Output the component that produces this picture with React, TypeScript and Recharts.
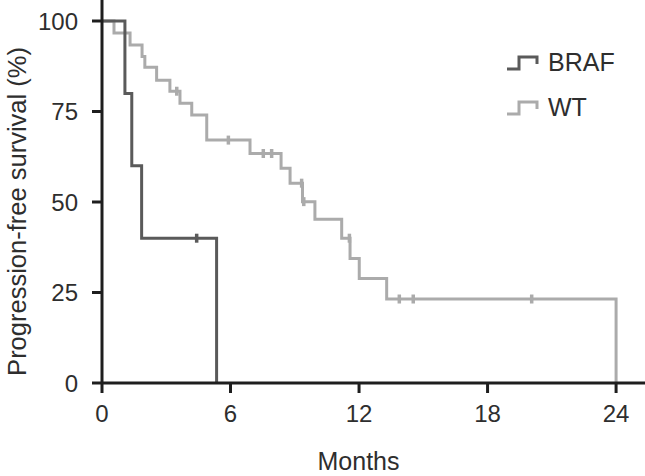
import { Legend, Line, LineChart, XAxis, YAxis } from "recharts";

// Kaplan-Meier steps (months, % progression-free, 1 = censored)
const brafMonths = [0, 1.07, 1.39, 1.85, 4.42, 5.35];
const brafSurvival = [100, 80, 60, 40, 40, 0];
const brafCensored = [0, 0, 0, 0, 1, 0];

const wtMonths = [
  0, 0.56, 1.31, 1.87, 2.0, 2.55, 3.17, 3.49, 3.64, 4.19, 4.89, 5.9, 6.91, 7.53,
  7.92, 8.36, 8.78, 9.32, 9.36, 9.42, 9.94, 11.19, 11.55, 11.58, 12.01, 13.29,
  13.88, 14.53, 20.06, 24.0,
];
const wtSurvival = [
  100, 96.7, 93.4, 90.2, 87.2, 83.6, 80.6, 80.6, 77.3, 74.0, 67.1, 67.1, 63.4,
  63.4, 63.4, 59.3, 55.2, 55.2, 50.1, 50.1, 45.2, 40.0, 40.0, 34.4, 28.9, 23.2,
  23.2, 23.2, 23.2, 0,
];
const wtCensored = [
  0, 0, 0, 0, 0, 0, 0, 1, 0, 0, 0, 1, 0, 1, 1, 0, 0, 1, 0, 1, 0, 0, 1, 0, 0, 0,
  1, 1, 1, 0,
];

const seriesNames = ["BRAF", "WT"];
const seriesColors = ["#5a5a5a", "#ababab"];
const xTicks = [0, 6, 12, 18, 24];
const yTicks = [0, 25, 50, 75, 100];

const toPoints = (months: number[], surv: number[], cens: number[]) =>
  months.map((m, i) => ({ month: m, pfs: surv[i], censored: cens[i] === 1 }));

const brafData = toPoints(brafMonths, brafSurvival, brafCensored);
const wtData = toPoints(wtMonths, wtSurvival, wtCensored);

const FONT = "'Liberation Sans', Arial, Helvetica, sans-serif";
const AXIS = "#1e1e1e";
const TEXT = "#2e2e2e";

function censorMark(color: string) {
  return (props: any) => {
    const { cx, cy, payload, index } = props;
    if (!payload?.censored) return <g key={`c-${index}`} />;
    return (
      <line
        key={`c-${index}`}
        x1={cx}
        x2={cx}
        y1={cy - 4.5}
        y2={cy + 4.5}
        stroke={color}
        strokeWidth={3.5}
      />
    );
  };
}

function StepLegend({ payload }: any) {
  const items = [...(payload ?? [])].sort(
    (a: any, b: any) => seriesNames.indexOf(a.value) - seriesNames.indexOf(b.value)
  );
  return (
    <div>
      {items.map((it: any) => (
        <div
          key={it.value}
          style={{ display: "flex", alignItems: "center", height: 45 }}
        >
          <svg width={34} height={18} style={{ marginRight: 8 }}>
            <path
              d="M1,15 H13 V3 H31 V10"
              fill="none"
              stroke={it.color}
              strokeWidth={3}
            />
          </svg>
          <span style={{ fontSize: 25, color: TEXT }}>{it.value}</span>
        </div>
      ))}
    </div>
  );
}

function XLabel({ viewBox }: any) {
  const { x, y, width, height } = viewBox;
  return (
    <text
      x={x + width / 2 - 15}
      y={y + height - 6}
      textAnchor="middle"
      fontSize={25}
      fill={TEXT}
    >
      Months
    </text>
  );
}

function YLabel({ viewBox }: any) {
  const { x, y, height } = viewBox;
  const cx = x + 17;
  const cy = y + height / 2 + 20;
  return (
    <text
      x={cx}
      y={cy}
      transform={`rotate(-90, ${cx}, ${cy})`}
      textAnchor="middle"
      dominantBaseline="central"
      fontSize={25.5}
      fill={TEXT}
    >
      Progression-free survival (%)
    </text>
  );
}

export default function App() {
  return (
    <div
      style={{
        position: "fixed",
        top: 0,
        left: 0,
        width: 645,
        height: 476,
        background: "#fff",
        fontFamily: FONT,
      }}
    >
      <LineChart
        width={645}
        height={476}
        margin={{ top: 0, right: 0, left: 0, bottom: 0 }}
      >
        <XAxis
          dataKey="month"
          type="number"
          domain={[0, 25.35]}
          ticks={xTicks}
          allowDuplicatedCategory={false}
          height={93}
          tickSize={10}
          tickMargin={12}
          stroke={AXIS}
          strokeWidth={3}
          tick={{ fill: TEXT, fontSize: 24 }}
          label={<XLabel />}
        />
        <YAxis
          type="number"
          domain={[0, 105.8]}
          ticks={yTicks}
          width={102}
          tickSize={10}
          tickMargin={14}
          stroke={AXIS}
          strokeWidth={3}
          tick={{ fill: TEXT, fontSize: 24 }}
          label={<YLabel />}
        />
        <Legend
          layout="vertical"
          verticalAlign="middle"
          align="center"
          content={<StepLegend />}
          wrapperStyle={{ top: 40, left: 506, width: 130 }}
        />
        <Line
          data={wtData}
          dataKey="pfs"
          name="WT"
          type="stepAfter"
          stroke={seriesColors[1]}
          strokeWidth={3}
          dot={censorMark(seriesColors[1])}
          activeDot={false}
          isAnimationActive={false}
        />
        <Line
          data={brafData}
          dataKey="pfs"
          name="BRAF"
          type="stepAfter"
          stroke={seriesColors[0]}
          strokeWidth={3}
          dot={censorMark(seriesColors[0])}
          activeDot={false}
          isAnimationActive={false}
        />
      </LineChart>
    </div>
  );
}
